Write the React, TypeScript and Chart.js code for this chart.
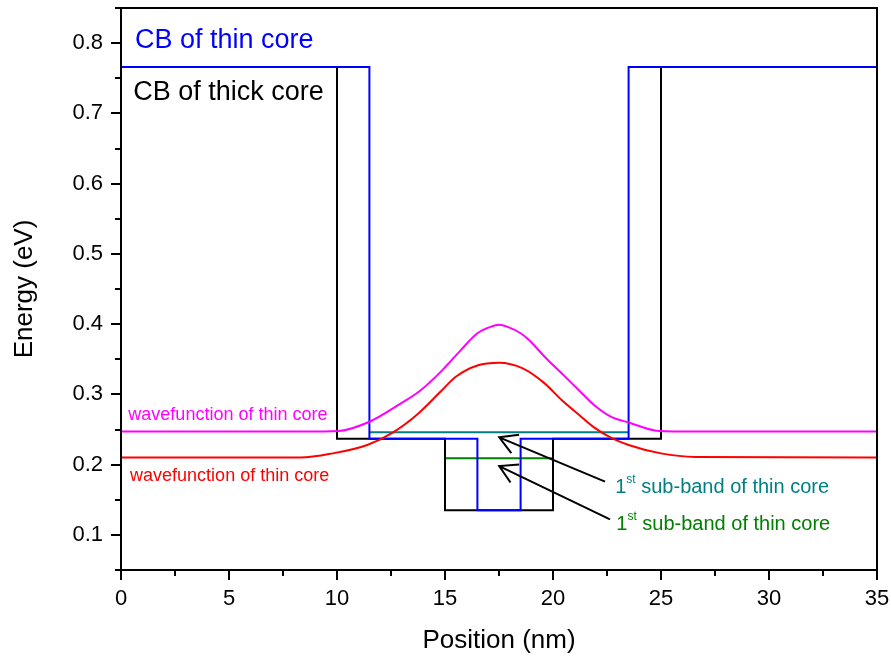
import { useEffect, useRef } from 'react';
import { Chart, registerables } from 'chart.js';

Chart.register(...registerables);

// Conduction band profiles (position nm, energy eV)
const thickCoreX = [0, 10, 10, 15, 15, 20, 20, 25, 25, 35];
const thickCoreY = [0.766, 0.766, 0.237, 0.237, 0.135, 0.135, 0.237, 0.237, 0.766, 0.766];
const thinCoreX = [0, 11.5, 11.5, 16.5, 16.5, 18.5, 18.5, 23.5, 23.5, 35];
const thinCoreY = [0.766, 0.766, 0.237, 0.237, 0.135, 0.135, 0.237, 0.237, 0.766, 0.766];

// Wavefunctions
const thinWaveX = [0, 8.3, 10.1, 11.5, 12.9, 13.8, 14.8, 15.7, 16.5, 17.1, 17.5, 17.9, 18.5, 18.9, 19.6, 20.4, 21.2, 21.9, 22.7, 23.5, 24.9, 26.6, 35];
const thinWaveY = [0.247, 0.247, 0.248, 0.261, 0.286, 0.304, 0.332, 0.362, 0.387, 0.396, 0.399, 0.396, 0.387, 0.377, 0.354, 0.330, 0.306, 0.285, 0.268, 0.260, 0.248, 0.247, 0.247];
const thickWaveX = [0, 8.3, 9.8, 11.4, 12.6, 13.7, 14.8, 15.5, 16.5, 17.5, 18.6, 19.6, 20.4, 21.2, 21.9, 22.7, 23.5, 25.0, 26.6, 35];
const thickWaveY = [0.210, 0.210, 0.216, 0.228, 0.246, 0.271, 0.304, 0.325, 0.341, 0.345, 0.337, 0.316, 0.292, 0.271, 0.253, 0.238, 0.228, 0.216, 0.211, 0.210];

// Sub-band levels
const subBandThinX = [11.5, 23.5];
const subBandThinY = [0.246, 0.246];
const subBandThickX = [15, 20];
const subBandThickY = [0.209, 0.209];

// Ticks
const xMajorTicks = [0, 5, 10, 15, 20, 25, 30, 35];
const xMinorTicks = [2.5, 7.5, 12.5, 17.5, 22.5, 27.5, 32.5];
const yMajorTicks = [0.1, 0.2, 0.3, 0.4, 0.5, 0.6, 0.7, 0.8];
const yMinorTicks = [0.05, 0.15, 0.25, 0.35, 0.45, 0.55, 0.65, 0.75, 0.85];

// Annotations (data coordinates)
const textNotes = [
  { text: 'CB of thin core', x: 0.65, y: 0.7926, color: '#0000ff', size: 27 },
  { text: 'CB of thick core', x: 0.57, y: 0.719, color: '#000000', size: 27 },
  { text: 'wavefunction of thin core', x: 0.34, y: 0.2635, color: '#ff00ff', size: 18 },
  { text: 'wavefunction of thin core', x: 0.42, y: 0.177, color: '#ff0000', size: 18 },
];
const supNotes = [
  { pre: '1', sup: 'st', post: ' sub-band of thin core', x: 22.88, y: 0.1595, color: '#008080' },
  { pre: '1', sup: 'st', post: ' sub-band of thin core', x: 22.93, y: 0.107, color: '#008000' },
];
const arrowNotes = [
  { fromX: 22.41, fromY: 0.1757, toX: 17.51, toY: 0.2389 },
  { fromX: 22.64, fromY: 0.1222, toX: 17.51, toY: 0.198 },
];

const FONT = '"Liberation Sans", Arial, sans-serif';

const zip = (xs: number[], ys: number[]) => xs.map((x, i) => ({ x, y: ys[i] }));

const zeroPad = (s: any) => {
  s.paddingLeft = 0;
  s.paddingRight = 0;
  s.paddingTop = 0;
  s.paddingBottom = 0;
};

const overlayPlugin = {
  id: 'overlay',
  afterDraw(chart: any) {
    const { ctx, chartArea } = chart;
    const xs = chart.scales.x;
    const ys = chart.scales.y;
    ctx.save();
    // frame
    ctx.strokeStyle = '#000';
    ctx.lineWidth = 2;
    ctx.strokeRect(chartArea.left, chartArea.top, chartArea.right - chartArea.left, chartArea.bottom - chartArea.top);
    // ticks
    ctx.beginPath();
    ctx.lineWidth = 2;
    for (const v of xMajorTicks) {
      const px = Math.round(xs.getPixelForValue(v));
      ctx.moveTo(px, chartArea.bottom);
      ctx.lineTo(px, chartArea.bottom + 10);
    }
    for (const v of xMinorTicks) {
      const px = Math.round(xs.getPixelForValue(v));
      ctx.moveTo(px, chartArea.bottom);
      ctx.lineTo(px, chartArea.bottom + 6);
    }
    for (const v of yMajorTicks) {
      const py = Math.round(ys.getPixelForValue(v));
      ctx.moveTo(chartArea.left, py);
      ctx.lineTo(chartArea.left - 10, py);
    }
    for (const v of yMinorTicks) {
      const py = Math.round(ys.getPixelForValue(v));
      ctx.moveTo(chartArea.left, py);
      ctx.lineTo(chartArea.left - 6, py);
    }
    ctx.stroke();

    // text notes
    ctx.textBaseline = 'alphabetic';
    ctx.textAlign = 'left';
    for (const n of textNotes) {
      ctx.font = `${n.size}px ${FONT}`;
      ctx.fillStyle = n.color;
      ctx.fillText(n.text, xs.getPixelForValue(n.x), ys.getPixelForValue(n.y));
    }
    for (const n of supNotes) {
      let px = xs.getPixelForValue(n.x);
      const py = ys.getPixelForValue(n.y);
      ctx.fillStyle = n.color;
      ctx.font = `20px ${FONT}`;
      ctx.fillText(n.pre, px, py);
      px += ctx.measureText(n.pre).width;
      ctx.font = `12px ${FONT}`;
      ctx.fillText(n.sup, px, py - 10);
      px += ctx.measureText(n.sup).width;
      ctx.font = `20px ${FONT}`;
      ctx.fillText(n.post, px, py);
    }

    // arrows
    ctx.strokeStyle = '#000';
    ctx.lineWidth = 2;
    for (const a of arrowNotes) {
      const x1 = xs.getPixelForValue(a.fromX);
      const y1 = ys.getPixelForValue(a.fromY);
      const x2 = xs.getPixelForValue(a.toX);
      const y2 = ys.getPixelForValue(a.toY);
      const ang = Math.atan2(y1 - y2, x1 - x2);
      const len = 20;
      const spread = Math.PI / 6;
      ctx.beginPath();
      ctx.moveTo(x1, y1);
      ctx.lineTo(x2, y2);
      ctx.moveTo(x2 + len * Math.cos(ang - spread), y2 + len * Math.sin(ang - spread));
      ctx.lineTo(x2, y2);
      ctx.lineTo(x2 + len * Math.cos(ang + spread), y2 + len * Math.sin(ang + spread));
      ctx.stroke();
    }
    ctx.restore();
  },
};

export default function App() {
  const ref = useRef<HTMLCanvasElement | null>(null);

  useEffect(() => {
    if (!ref.current) return;
    const tickFont = { family: FONT, size: 22 };
    const titleFont = { family: FONT, size: 26 };
    const chart = new Chart(ref.current, {
      type: 'line',
      data: {
        datasets: [
          { data: zip(thinWaveX, thinWaveY), borderColor: '#ff00ff', borderWidth: 2, cubicInterpolationMode: 'monotone' },
          { data: zip(thickWaveX, thickWaveY), borderColor: '#ff0000', borderWidth: 2, cubicInterpolationMode: 'monotone' },
          { data: zip(thinCoreX, thinCoreY), borderColor: '#0000ff', borderWidth: 2 },
          { data: zip(thickCoreX, thickCoreY), borderColor: '#000000', borderWidth: 2 },
          { data: zip(subBandThinX, subBandThinY), borderColor: '#008080', borderWidth: 2 },
          { data: zip(subBandThickX, subBandThickY), borderColor: '#008000', borderWidth: 2 },
        ] as any,
      },
      options: {
        responsive: false,
        animation: false,
        devicePixelRatio: 1,
        layout: { padding: { top: 8, right: 14, left: 0, bottom: 0 } },
        elements: { point: { radius: 0, hoverRadius: 0 }, line: { tension: 0, fill: false } },
        plugins: { legend: { display: false }, tooltip: { enabled: false } },
        events: [],
        scales: {
          x: {
            type: 'linear',
            min: 0,
            max: 35,
            afterBuildTicks: (s: any) => { s.ticks = xMajorTicks.map((v) => ({ value: v })); },
            afterFit: (s: any) => { s.height = 87; zeroPad(s); },
            grid: { display: false, drawTicks: false },
            border: { display: false },
            ticks: { padding: 16, font: tickFont, color: '#000', maxRotation: 0, autoSkip: false, callback: (v: any) => String(v) },
            title: { display: true, text: 'Position (nm)', font: titleFont, color: '#000', padding: { top: 0, bottom: 1 } },
          },
          y: {
            type: 'linear',
            min: 0.05,
            max: 0.85,
            afterBuildTicks: (s: any) => { s.ticks = yMajorTicks.map((v) => ({ value: v })); },
            afterFit: (s: any) => { s.width = 121; zeroPad(s); },
            grid: { display: false, drawTicks: false },
            border: { display: false },
            ticks: { padding: 18, font: tickFont, color: '#000', autoSkip: false, callback: (v: any) => Number(v).toFixed(1) },
            title: { display: true, text: 'Energy (eV)', font: titleFont, color: '#000', padding: { top: 9, bottom: 0 } },
          },
        },
      } as any,
      plugins: [overlayPlugin],
    });
    return () => chart.destroy();
  }, []);

  return (
    <div style={{ position: 'absolute', left: 0, top: 0, width: 891, height: 657, background: '#fff' }}>
      <canvas ref={ref} width={891} height={657} style={{ display: 'block', width: 891, height: 657 }} />
    </div>
  );
}
